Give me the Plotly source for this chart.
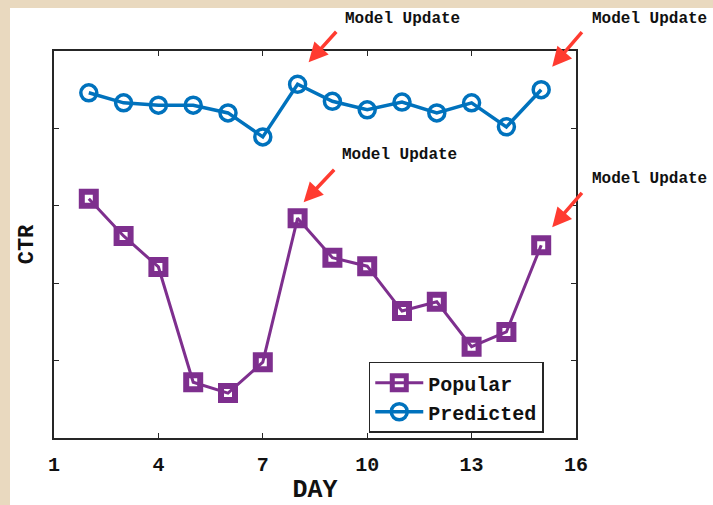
import plotly.graph_objects as go

# Daily click-through rate for the two recommendation strategies
days = list(range(2, 16))
popular_ctr = [0.0309, 0.0261, 0.0221, 0.0072, 0.0058, 0.0098, 0.0284,
               0.0233, 0.0222, 0.0164, 0.0176, 0.0118, 0.0137, 0.0249]
predicted_ctr = [0.0446, 0.0433, 0.0430, 0.0430, 0.0420, 0.0389, 0.0457,
                 0.0435, 0.0424, 0.0434, 0.0420, 0.0433, 0.0402, 0.0450]

x_ticks = [1, 4, 7, 10, 13, 16]
y_ticks = [0.01, 0.02, 0.03, 0.04]

# Days on which the model was retrained, marked on both series
update_days = [8, 15]
update_label = "Model Update"

PURPLE = "#7E2F8E"
BLUE = "#0072BD"
RED = "#FF3B30"
INK = "#262626"
BEIGE = "#E9D9BF"
MONO = "Courier New, Liberation Mono, monospace"

fig = go.Figure()
fig.add_trace(go.Scatter(
    x=days, y=popular_ctr, name="<b>Popular</b>", mode="lines+markers",
    line=dict(color=PURPLE, width=3),
    marker=dict(symbol="square-open", size=14, line=dict(color=PURPLE, width=6)),
))
fig.add_trace(go.Scatter(
    x=days, y=predicted_ctr, name="<b>Predicted</b>", mode="lines+markers",
    line=dict(color=BLUE, width=3.5),
    marker=dict(symbol="circle-open", size=16, line=dict(color=BLUE, width=3.5)),
))

# Arrow + label for each model update, anchored on the marker it points to
arrow_style = [
    # (series, day, tip shift x/y, tail offset, text shift x/y)
    (predicted_ctr, 8, 11, 22, 29, -32, 45, 65),
    (popular_ctr, 8, 6, 16, 32, -34, 42, 63),
    (predicted_ctr, 15, 11, 23, 31, -36, 49, 71),
    (popular_ctr, 15, 11, 18, 31, -36, 49, 66),
]
annotations = []
for series, day, sx, sy, ax, ay, tx, ty in arrow_style:
    yv = series[days.index(day)]
    annotations.append(dict(
        x=day, y=yv, xref="x", yref="y", text="", showarrow=True,
        xshift=sx, yshift=sy, ax=ax, ay=ay,
        arrowhead=2, arrowsize=1.1, arrowwidth=3.5, arrowcolor=RED,
    ))
    annotations.append(dict(
        x=day, y=yv, xref="x", yref="y", text="<b>" + update_label + "</b>",
        showarrow=False, xanchor="left", yanchor="middle",
        xshift=tx, yshift=ty, font=dict(family=MONO, size=16, color="#111111"),
    ))

fig.update_layout(
    width=713, height=505,
    margin=dict(l=54, r=137, t=51, b=67),
    paper_bgcolor=BEIGE, plot_bgcolor="white",
    showlegend=True,
    legend=dict(
        x=0.603, y=0.197, xanchor="left", yanchor="top",
        bgcolor="white", bordercolor=INK, borderwidth=1.5,
        font=dict(family=MONO, size=20, color="#111111"),
        tracegroupgap=0, itemwidth=48,
    ),
    annotations=annotations,
    shapes=[dict(
        type="rect", xref="paper", yref="paper",
        x0=-0.0843, x1=1.3, y0=-0.3, y1=1.111,
        fillcolor="white", line=dict(width=0), layer="below",
    )],
)
fig.update_xaxes(
    range=[1, 16], tickvals=x_ticks, ticktext=[f"<b>{t}</b>" for t in x_ticks],
    ticks="inside", ticklen=5, tickcolor=INK, tickwidth=1.2,
    showline=True, linecolor=INK, linewidth=1.5, mirror="ticks",
    showgrid=False, zeroline=False, ticklabelstandoff=7, automargin=False,
    tickfont=dict(family=MONO, size=20, color="#111111"),
    title=dict(text="<b>DAY</b>", standoff=17,
               font=dict(family=MONO, size=25, color="#111111")),
)
fig.update_yaxes(
    range=[0, 0.05], tickvals=y_ticks, showticklabels=False,
    ticks="inside", ticklen=5, tickcolor=INK, tickwidth=1.2,
    showline=True, linecolor=INK, linewidth=1.5, mirror="ticks",
    showgrid=False, zeroline=False, automargin=False,
    title=dict(text="<b>CTR</b>", standoff=13,
               font=dict(family=MONO, size=22, color="#111111")),
)

fig.write_html("out.html")
